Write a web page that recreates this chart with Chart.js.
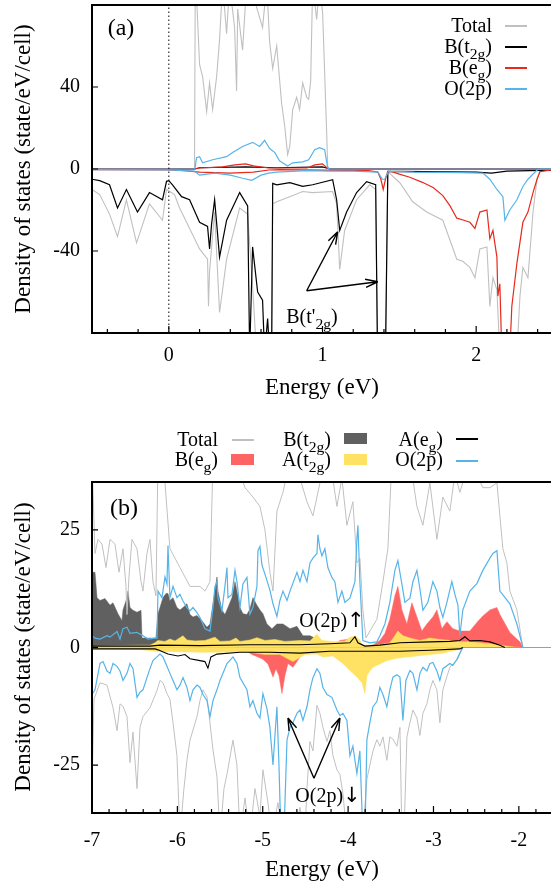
<!DOCTYPE html>
<html>
<head>
<meta charset="utf-8">
<script src="https://cdn.jsdelivr.net/npm/chart.js@4.4.1/dist/chart.umd.min.js"></script>
<style>
  body { margin: 0; width: 551px; height: 882px; overflow: hidden; background: #fff; position: relative; font-family: "Liberation Serif", "Times New Roman", serif; }
  canvas { position: absolute; left: 0; }
  .t { position: absolute; white-space: nowrap; color: #000; line-height: 1; font-size: 20px; }
  .c { transform: translate(-50%, -50%); }
  .r { transform: translate(-100%, -50%); }
  .ytitle { font-size: 23px; transform: translate(-50%, -50%) rotate(-90deg); }
  .xtitle { font-size: 23px; }
  .panel { font-size: 24px; }
  .arr { font-family: "DejaVu Sans", sans-serif; font-size: 21px; }
  sub { font-size: 0.78em; vertical-align: -0.38em; line-height: 0; }
  .ln { position: absolute; height: 1.5px; }
  .bx { position: absolute; }
</style>
</head>
<body>
<canvas id="dosA" width="560" height="400" style="top:0"></canvas>
<canvas id="dosB" width="560" height="482" style="top:400px"></canvas>

<!-- panel (a) texts -->
<div class="t ytitle" style="left:22px;top:169px">Density of states (state/eV/cell)</div>
<div class="t xtitle c" style="left:322px;top:386px">Energy (eV)</div>
<div class="t panel c" style="left:121px;top:27px">(a)</div>
<div class="t r" style="left:492px;top:25px">Total</div>
<div class="t r" style="left:492px;top:46px">B(t<sub>2g</sub>)</div>
<div class="t r" style="left:492px;top:67px">B(e<sub>g</sub>)</div>
<div class="t r" style="left:492px;top:88px">O(2p)</div>
<div class="ln" style="left:505px;width:22px;top:25px;background:#c0c0c0"></div>
<div class="ln" style="left:505px;width:22px;top:46px;background:#000"></div>
<div class="ln" style="left:505px;width:22px;top:67px;background:#e8291c"></div>
<div class="ln" style="left:505px;width:22px;top:88px;background:#56b4e9"></div>
<div class="t c" style="left:312px;top:316px">B(t'<sub>2g</sub>)</div>

<!-- panel (b) texts -->
<div class="t ytitle" style="left:22px;top:647px">Density of states (state/eV/cell)</div>
<div class="t xtitle c" style="left:322px;top:868px">Energy (eV)</div>
<div class="t panel c" style="left:124px;top:507px">(b)</div>
<div class="t r" style="left:218px;top:439px">Total</div>
<div class="t r" style="left:218px;top:459px">B(e<sub>g</sub>)</div>
<div class="t r" style="left:331px;top:439px">B(t<sub>2g</sub>)</div>
<div class="t r" style="left:331px;top:459px">A(t<sub>2g</sub>)</div>
<div class="t r" style="left:443px;top:439px">A(e<sub>g</sub>)</div>
<div class="t r" style="left:443px;top:459px">O(2p)</div>
<div class="ln" style="left:232px;width:22px;top:439px;background:#c0c0c0"></div>
<div class="bx" style="left:231px;width:23px;top:454px;height:11px;background:#ff6464"></div>
<div class="bx" style="left:344px;width:23px;top:433px;height:11px;background:#606060"></div>
<div class="bx" style="left:344px;width:23px;top:454px;height:11px;background:#ffe263"></div>
<div class="ln" style="left:456px;width:22px;top:438px;background:#000"></div>
<div class="ln" style="left:456px;width:22px;top:460px;background:#56b4e9"></div>
<div class="t c" style="left:332px;top:620px">O(2p)<span class="arr">↑</span></div>
<div class="t c" style="left:328px;top:795px">O(2p)<span class="arr">↓</span></div>

<script>
// ---------- panel (a): energy (eV) vs DOS, spin up (+) / spin down (-) ----------
const xTicksA = [0, 1, 2];
const yTicksA = [-40, 0, 40];
const fermiLevel = 0;

const totalUpA = [[-0.5,0],[0.167,0],[0.172,90],[0.18,85],[0.2,51],[0.22,45],[0.246,28],[0.265,42],[0.285,29],[0.311,45],[0.33,63],[0.35,90],[0.376,66],[0.395,90],[0.428,69],[0.441,38],[0.448,78],[0.48,58],[0.506,90],[0.545,90],[0.571,79],[0.61,69],[0.637,90],[0.656,62],[0.676,49],[0.702,60],[0.734,32],[0.754,21],[0.773,7],[0.787,11],[0.806,29],[0.832,35],[0.851,29],[0.871,42],[0.897,35],[0.91,34],[0.923,43],[0.936,90],[0.962,73],[0.981,90],[1.001,76],[1.027,18],[1.034,1],[1.047,0],[2.5,0]];
const totalDnA = [[-0.5,-10],[-0.45,-12.5],[-0.386,-22],[-0.334,-33],[-0.276,-15],[-0.21,-36],[-0.126,-17],[-0.041,-25],[-0.015,-10],[0.037,-12.5],[0.07,-19],[0.083,-21],[0.2,-39],[0.252,-44],[0.258,-67],[0.265,-50],[0.298,-21],[0.33,-70],[0.376,-44],[0.461,-19],[0.513,-22],[0.545,-57],[0.571,-90],[0.669,-90],[0.676,-17],[0.702,-16],[0.787,-13.5],[0.871,-11],[0.936,-11.5],[1.066,-11],[1.092,-17],[1.112,-49],[1.144,-30],[1.222,-15],[1.307,-7.7],[1.346,-10],[1.358,-90],[1.41,-90],[1.425,-1.3],[1.503,-6.7],[1.587,-16],[1.678,-21],[1.783,-25],[1.874,-44],[1.913,-45],[1.959,-48],[1.992,-53],[2.024,-39],[2.07,-38],[2.089,-67],[2.109,-53],[2.135,-59],[2.154,-90],[2.265,-90],[2.285,-62],[2.304,-48],[2.337,-53],[2.37,-21],[2.396,-5],[2.415,-1],[2.5,-0.5]];
const bt2gUpA = [[-0.5,0],[0.167,0],[0.2,0.6],[0.5,1],[0.7,0.6],[1.0,1],[1.05,0],[2.5,0]];
const bt2gDnA = [[-0.5,-5],[-0.45,-5.7],[-0.386,-7.7],[-0.334,-19],[-0.276,-10],[-0.204,-21],[-0.126,-11.5],[-0.041,-15],[-0.015,-6],[0,-5.7],[0.024,-7.7],[0.083,-13.5],[0.135,-15],[0.2,-26],[0.252,-28],[0.265,-39],[0.278,-27],[0.298,-15],[0.33,-43],[0.376,-25],[0.461,-11.5],[0.513,-18],[0.526,-90],[0.545,-38],[0.578,-60],[0.61,-64],[0.623,-90],[0.643,-73],[0.656,-90],[0.669,-90],[0.676,-7],[0.702,-7.7],[0.787,-6.7],[0.871,-8.5],[0.936,-7.7],[1.066,-5.2],[1.092,-15],[1.112,-30],[1.157,-21],[1.222,-11.5],[1.287,-6.2],[1.346,-7.7],[1.358,-90],[1.41,-90],[1.425,-1.3],[1.5,-1.2],[2.0,-1.5],[2.1,-2],[2.2,-1],[2.5,-0.5]];
const begUpA = [[-0.5,0],[0.167,0],[0.2,0.5],[0.35,1],[0.43,2],[0.5,2.5],[0.55,1.5],[0.65,0.5],[0.9,0.5],[0.95,2],[1.0,2.5],[1.03,0.5],[1.05,0],[2.5,0]];
const begDnA = [[-0.5,-0.3],[0,-0.5],[0.1,-0.8],[0.2,-1.5],[0.4,-2],[0.55,-1.5],[0.65,-0.5],[0.72,-0.3],[1.3,-0.8],[1.36,-1.5],[1.38,-5],[1.395,-10],[1.41,-5],[1.425,-1],[1.451,-1.3],[1.5,-2.5],[1.568,-4],[1.65,-6.5],[1.72,-9],[1.783,-13],[1.83,-18],[1.874,-24],[1.92,-25],[1.959,-26],[1.992,-29],[2.024,-21],[2.07,-20],[2.089,-34],[2.109,-30],[2.135,-43],[2.141,-62],[2.154,-56],[2.167,-90],[2.219,-90],[2.232,-67],[2.265,-46],[2.304,-26],[2.337,-21],[2.37,-11.5],[2.396,-5],[2.415,-1.3],[2.5,-0.3]];
const o2pUpA = [[-0.5,0],[0.167,0],[0.172,1],[0.18,5.5],[0.2,6],[0.22,3],[0.285,4.5],[0.376,6],[0.415,8],[0.48,11],[0.545,13],[0.591,11],[0.623,14],[0.656,10],[0.69,8],[0.72,4],[0.773,1.5],[0.806,3],[0.871,3.5],[0.91,4.5],[0.949,9.4],[0.981,10.4],[1.014,9.4],[1.034,0.5],[1.05,0],[2.5,0]];
const o2pDnA = [[-0.5,-0.3],[0,-0.5],[0.167,-1],[0.2,-3],[0.3,-2],[0.4,-3],[0.48,-4.5],[0.54,-5.5],[0.6,-3],[0.65,-2],[0.7,-1.5],[0.9,-0.8],[1.05,-1],[1.2,-1],[1.36,-1.5],[1.39,-5],[1.405,-5],[1.43,-1],[1.6,-1.5],[1.9,-1.8],[2.044,-2],[2.089,-5],[2.135,-10],[2.174,-13.5],[2.187,-25],[2.219,-20],[2.265,-15],[2.304,-8.5],[2.337,-5],[2.396,-0.5],[2.42,0],[2.5,0]];
// B(t'2g) annotation arrows: [fromE, fromDOS, toE, toDOS]
const arrowsA = [[0.897,-59.4,1.099,-30.6],[0.897,-59.4,1.36,-55]];

// ---------- panel (b) ----------
const xTicksB = [-7, -6, -5, -4, -3, -2];
const yTicksB = [-25, 0, 25];

const totalUpB = [[-7,40],[-6.965,20],[-6.93,23],[-6.883,22],[-6.836,17],[-6.789,23],[-6.731,22],[-6.684,16],[-6.637,21],[-6.602,13],[-6.59,7],[-6.567,15],[-6.532,23],[-6.473,21],[-6.426,14],[-6.403,12],[-6.356,20],[-6.321,23],[-6.286,14],[-6.251,11],[-6.227,40],[-6.204,40],[-6.145,35],[-6.087,21],[-6.028,19],[-5.97,17],[-5.911,15],[-5.852,13],[-5.735,13],[-5.677,12],[-5.618,14],[-5.583,40],[-5.501,40],[-5.407,36],[-5.325,40],[-5.208,34],[-5.115,32],[-5.033,30],[-4.974,25],[-4.916,16],[-4.88,12],[-4.834,29],[-4.763,33],[-4.681,40],[-4.564,36],[-4.482,31],[-4.412,28],[-4.33,35],[-4.213,40],[-4.131,30],[-4.073,36],[-4.014,26],[-3.944,31],[-3.897,18],[-3.862,19],[-3.827,8],[-3.791,2],[-3.745,3.5],[-3.663,6],[-3.592,14],[-3.534,21],[-3.487,40],[-3.393,36],[-3.276,40],[-3.194,30],[-3.124,26],[-3.042,35],[-2.96,23],[-2.89,32],[-2.808,29],[-2.749,37],[-2.691,33],[-2.574,40],[-2.422,34],[-2.339,34],[-2.257,35],[-2.222,28],[-2.187,21],[-2.14,18],[-2.105,12],[-2.023,8],[-1.953,0],[-1.6,0]];
const totalDnB = [[-7,-30],[-6.977,-11],[-6.906,-7.5],[-6.824,-8],[-6.754,-12.8],[-6.707,-17.7],[-6.672,-12],[-6.637,-12.5],[-6.59,-14.7],[-6.555,-24.5],[-6.52,-18],[-6.473,-30],[-6.438,-17],[-6.403,-14.7],[-6.321,-12.8],[-6.239,-9.2],[-6.204,-7],[-6.169,-7.5],[-6.122,-9.8],[-6.087,-11],[-6.051,-16],[-6.005,-23],[-5.97,-40],[-5.923,-30],[-5.888,-24],[-5.852,-19.7],[-5.77,-14.7],[-5.735,-11.3],[-5.7,-9],[-5.653,-10.5],[-5.618,-16],[-5.583,-21.8],[-5.536,-27.5],[-5.501,-40],[-5.454,-30],[-5.419,-27],[-5.349,-19.7],[-5.302,-25],[-5.267,-40],[-5.208,-32],[-5.15,-40],[-5.091,-30],[-5.033,-36],[-4.998,-26],[-4.939,-33],[-4.892,-40],[-4.822,-33],[-4.763,-40],[-4.681,-36],[-4.623,-40],[-4.564,-34],[-4.506,-40],[-4.482,-30],[-4.447,-20],[-4.412,-22],[-4.365,-12.3],[-4.33,-14],[-4.295,-17],[-4.248,-20],[-4.213,-17.7],[-4.178,-23],[-4.131,-26],[-4.096,-27],[-4.061,-31],[-4.014,-40],[-3.827,-40],[-3.78,-28],[-3.745,-25],[-3.709,-22],[-3.663,-19.6],[-3.628,-21],[-3.592,-19],[-3.546,-24],[-3.511,-19],[-3.475,-19.5],[-3.428,-21],[-3.393,-17],[-3.37,-40],[-3.346,-40],[-3.311,-19],[-3.276,-16],[-3.241,-13.3],[-3.194,-15],[-3.159,-18.7],[-3.124,-14],[-3.077,-12],[-3.042,-9],[-3.007,-7],[-2.96,-9],[-2.925,-16],[-2.89,-9],[-2.843,-6.2],[-2.808,-4.2],[-2.773,-3.5],[-2.726,-2.8],[-2.691,-1.4],[-2.667,0],[-1.6,0]];
const bt2gUpB = [[-7,16],[-6.965,16],[-6.941,10.6],[-6.906,10],[-6.848,10.4],[-6.789,9],[-6.754,9.5],[-6.696,7.2],[-6.649,5.7],[-6.637,8],[-6.59,10.6],[-6.578,12],[-6.555,8.5],[-6.52,7.9],[-6.473,7.5],[-6.426,7.9],[-6.414,2],[-6.251,2],[-6.227,7.2],[-6.204,8.5],[-6.169,10.6],[-6.133,11.5],[-6.11,11.5],[-6.087,10],[-6.051,10.6],[-6.005,8.5],[-5.97,8],[-5.934,8.5],[-5.888,9.3],[-5.852,7],[-5.817,6.5],[-5.77,6.8],[-5.712,5.7],[-5.653,4.3],[-5.618,5],[-5.583,9.3],[-5.536,15],[-5.525,12],[-5.478,8],[-5.443,7],[-5.407,8.5],[-5.361,10.6],[-5.325,14],[-5.302,12],[-5.267,8.5],[-5.232,7.2],[-5.185,7],[-5.15,8.2],[-5.115,10.6],[-5.068,9],[-5.033,8],[-4.998,7.2],[-4.951,5],[-4.892,4],[-4.834,5],[-4.763,5],[-4.681,4],[-4.599,4.5],[-4.529,2.5],[-4.447,2.5],[-4.365,1.8],[-4.213,0.5],[-4.037,0],[-1.6,0]];
const begUpB = [[-4.213,0],[-4.096,1.5],[-3.979,1.8],[-3.885,1],[-3.827,0],[-3.768,0],[-3.686,0.8],[-3.628,1.5],[-3.569,3],[-3.511,6],[-3.452,11],[-3.417,13],[-3.37,8],[-3.311,5],[-3.253,9.5],[-3.194,6.5],[-3.136,3.5],[-3.077,5],[-3.007,6.5],[-2.96,8],[-2.902,4],[-2.843,5.5],[-2.773,4],[-2.691,3.5],[-2.574,3.5],[-2.492,5.3],[-2.422,6.7],[-2.339,8],[-2.257,8.5],[-2.222,7],[-2.105,3.2],[-1.988,1.2],[-1.953,0]];
const begDnB = [[-5.325,0],[-5.208,-0.5],[-5.127,-1.5],[-5.056,-2],[-4.998,-2.5],[-4.939,-3.5],[-4.88,-6.3],[-4.845,-4.5],[-4.81,-6],[-4.775,-9.8],[-4.74,-6],[-4.705,-3.4],[-4.646,-4.2],[-4.599,-3],[-4.564,-2],[-4.506,-1],[-4.424,-0.5],[-4.33,0]];
const at2gUpB = [[-7,0.3],[-6.438,0.5],[-6.321,0.5],[-6.262,1],[-6.227,1.5],[-6.145,1.3],[-6.087,1.8],[-6.028,1.4],[-5.934,2.5],[-5.888,1.6],[-5.794,1.4],[-5.677,1.5],[-5.56,2.2],[-5.501,1.3],[-5.384,1.4],[-5.314,2],[-5.267,1.3],[-5.15,1.6],[-5.068,2.1],[-4.974,1.5],[-4.857,1.7],[-4.74,1.3],[-4.564,1.5],[-4.447,1.4],[-4.365,2.8],[-4.307,1.5],[-4.155,1.2],[-4.037,1.4],[-3.979,2.2],[-3.909,2.4],[-3.862,1.5],[-3.827,0.5],[-3.745,0.5],[-3.628,0.6],[-3.511,1],[-3.452,2.5],[-3.417,3.5],[-3.358,2.5],[-3.276,2],[-3.159,1.5],[-3.042,2],[-2.925,1.7],[-2.808,1.5],[-2.691,1.2],[-2.574,1.2],[-2.456,1],[-2.339,0.8],[-2.222,0.5],[-2.105,0.2],[-1.988,0]];
const at2gDnB = [[-7,-0.3],[-6.438,-0.4],[-6.262,-0.8],[-5.735,-1],[-5.15,-1],[-4.974,-1.5],[-4.799,-1.5],[-4.646,-3],[-4.506,-1.5],[-4.365,-1.4],[-4.295,-2],[-4.178,-1.8],[-4.061,-3.4],[-3.979,-4.9],[-3.897,-6.3],[-3.838,-7.5],[-3.803,-9.8],[-3.78,-6],[-3.745,-5],[-3.709,-4.2],[-3.628,-3.5],[-3.546,-2.8],[-3.428,-2.3],[-3.311,-2],[-3.194,-1.8],[-3.042,-1.5],[-2.89,-1.2],[-2.726,-0.5],[-2.656,0]];
const aegUpB = [[-7,0.3],[-6.321,0.3],[-6.204,0.5],[-5.735,0.4],[-5.15,0.6],[-4.564,0.6],[-4.213,0.8],[-3.979,1],[-3.92,2.3],[-3.885,1],[-3.803,0.3],[-3.628,0.5],[-3.393,1],[-3.042,1.2],[-2.808,1.3],[-2.691,1.5],[-2.632,2.3],[-2.574,1.4],[-2.456,1.5],[-2.339,1.2],[-2.222,0.5],[-2.164,0]];
const aegDnB = [[-7,-0.3],[-6.262,-0.3],[-6.227,-0.5],[-6.11,-1.4],[-5.993,-1.8],[-5.911,-1.5],[-5.852,-2.4],[-5.735,-2.8],[-5.677,-3],[-5.642,-4.4],[-5.607,-2],[-5.536,-1.4],[-5.267,-1],[-4.916,-1],[-4.564,-1.2],[-4.213,-0.8],[-3.862,-0.8],[-3.393,-0.8],[-3.042,-0.6],[-2.691,-0.3],[-2.656,0]];
const o2pUpB = [[-7,2.5],[-6.965,2],[-6.906,1.8],[-6.824,2.5],[-6.789,2.2],[-6.707,3.4],[-6.672,1.8],[-6.637,4],[-6.59,4.3],[-6.555,3],[-6.473,3.2],[-6.403,2.5],[-6.344,1.8],[-6.262,2],[-6.239,2],[-6.227,12],[-6.18,10.6],[-6.145,15],[-6.122,13.5],[-6.11,21.7],[-6.087,10.6],[-6.051,13],[-6.005,10.6],[-5.97,11.3],[-5.934,9.9],[-5.888,8.5],[-5.852,7.8],[-5.817,8.5],[-5.77,7.4],[-5.735,6.4],[-5.677,4],[-5.618,3.5],[-5.583,8.5],[-5.56,13],[-5.536,14],[-5.525,10.6],[-5.478,7.8],[-5.443,13],[-5.419,17],[-5.407,10.6],[-5.361,11.3],[-5.325,16.4],[-5.302,14],[-5.267,8.5],[-5.232,13.5],[-5.185,14.9],[-5.15,7.1],[-5.115,8.5],[-5.068,13],[-5.056,20.6],[-5.033,21.5],[-5.009,17.5],[-4.974,15.6],[-4.916,12.2],[-4.88,9.3],[-4.834,6.6],[-4.799,10],[-4.763,12],[-4.716,10],[-4.681,12],[-4.599,16],[-4.564,14],[-4.529,16.4],[-4.482,14],[-4.447,18],[-4.412,19],[-4.365,20],[-4.354,24],[-4.33,21],[-4.307,19.5],[-4.272,21],[-4.237,17],[-4.19,14.9],[-4.155,14],[-4.119,9.6],[-4.073,12],[-4.037,9.6],[-3.979,10.5],[-3.92,14],[-3.897,23],[-3.885,26],[-3.862,14],[-3.827,1.5],[-3.745,1],[-3.663,1.2],[-3.628,2.5],[-3.569,5],[-3.511,9.6],[-3.452,16.4],[-3.417,18.5],[-3.37,13.5],[-3.335,9.6],[-3.276,10.5],[-3.241,14],[-3.194,16.4],[-3.159,12.5],[-3.124,7.9],[-3.066,9.6],[-3.007,14],[-2.96,12],[-2.925,8.5],[-2.89,6.4],[-2.843,9.6],[-2.785,14],[-2.749,11.3],[-2.714,9],[-2.691,2.5],[-2.656,8],[-2.574,12],[-2.492,13.6],[-2.422,16.4],[-2.339,19],[-2.304,20],[-2.257,20.6],[-2.222,12],[-2.105,9.3],[-2.023,5],[-1.953,0],[-1.6,0]];
const o2pDnB = [[-7,-10],[-6.965,-9],[-6.906,-3.4],[-6.871,-3],[-6.824,-5],[-6.789,-5.5],[-6.754,-3.4],[-6.707,-4],[-6.672,-5],[-6.637,-7],[-6.59,-5.5],[-6.555,-3.4],[-6.52,-4.5],[-6.473,-10.6],[-6.438,-9.5],[-6.403,-9],[-6.356,-6.4],[-6.321,-4.5],[-6.286,-2.8],[-6.239,-2],[-6.204,-1.4],[-6.169,-2],[-6.122,-4],[-6.087,-5.5],[-6.051,-7],[-6.005,-9],[-5.97,-8],[-5.934,-6.4],[-5.888,-8.5],[-5.852,-11.3],[-5.817,-9],[-5.77,-8],[-5.735,-8.5],[-5.7,-10],[-5.653,-11.3],[-5.618,-14.7],[-5.583,-11.3],[-5.536,-9],[-5.501,-7],[-5.419,-3.4],[-5.349,-2],[-5.302,-3.4],[-5.267,-6.4],[-5.185,-9],[-5.15,-12.6],[-5.115,-11.3],[-5.068,-14],[-5.033,-15],[-4.998,-9.8],[-4.951,-13],[-4.916,-17],[-4.88,-25],[-4.834,-12.6],[-4.81,-25],[-4.787,-40],[-4.752,-40],[-4.716,-19.7],[-4.681,-17],[-4.646,-16],[-4.599,-14],[-4.564,-13.3],[-4.529,-15.5],[-4.482,-12.6],[-4.447,-9],[-4.412,-6.4],[-4.365,-4.5],[-4.33,-5.5],[-4.295,-8.5],[-4.248,-10],[-4.19,-10.6],[-4.131,-13.3],[-4.096,-14.5],[-4.061,-14],[-4.014,-15.5],[-3.979,-23],[-3.944,-21],[-3.897,-26.8],[-3.862,-22],[-3.827,-40],[-3.803,-40],[-3.78,-19.6],[-3.745,-16],[-3.709,-12.6],[-3.663,-11.5],[-3.628,-8.5],[-3.592,-10],[-3.546,-12.6],[-3.511,-9],[-3.475,-6.3],[-3.428,-5.8],[-3.393,-6.3],[-3.358,-15.5],[-3.323,-7],[-3.276,-4.9],[-3.241,-5.5],[-3.194,-9],[-3.159,-5.5],[-3.124,-4.2],[-3.077,-5],[-3.042,-3.4],[-3.007,-3.2],[-2.96,-5],[-2.925,-7],[-2.89,-4.5],[-2.808,-3.4],[-2.773,-3.8],[-2.726,-2.5],[-2.691,-1.2],[-2.656,0],[-1.6,0]];
// O(2p) down annotation arrows
const arrowsB = [[-4.40,-27.8,-4.705,-15],[-4.40,-27.8,-4.096,-15]];

const font = { family: 'Liberation Serif', size: 20 };
const pts = a => a.map(([x, y]) => ({ x, y }));

function line(arr, color, width) {
  return { data: pts(arr), borderColor: color, borderWidth: width, pointRadius: 0, fill: false, tension: 0, clip: 0 };
}
function area(arr, color) {
  return { data: pts(arr), borderColor: color, backgroundColor: color, borderWidth: 0.5, pointRadius: 0, fill: 'origin', tension: 0, clip: 0 };
}

// gnuplot-like frame: box border, inward ticks, arrows
const framePlugin = {
  id: 'frame',
  afterDatasetsDraw(chart, args, o) {
    const { ctx, chartArea: a } = chart;
    const x = chart.scales.x, y = chart.scales.y;
    ctx.save();
    ctx.strokeStyle = '#000';
    ctx.lineWidth = 1.4;
    (o.arrows || []).forEach(([e0, d0, e1, d1]) => {
      const x0 = x.getPixelForValue(e0), y0 = y.getPixelForValue(d0);
      const x1 = x.getPixelForValue(e1), y1 = y.getPixelForValue(d1);
      const ang = Math.atan2(y1 - y0, x1 - x0);
      ctx.beginPath();
      ctx.moveTo(x0, y0); ctx.lineTo(x1, y1);
      [-0.32, 0.32].forEach(da => {
        ctx.moveTo(x1, y1);
        ctx.lineTo(x1 - 13 * Math.cos(ang + da), y1 - 13 * Math.sin(ang + da));
      });
      ctx.stroke();
    });
    ctx.lineWidth = 1.2;
    ctx.beginPath();
    for (let v = Math.ceil(x.min / 0.2 - 1e-6) * 0.2; v <= x.max + 1e-6; v += 0.2) {
      const p = x.getPixelForValue(v);
      const major = o.xMajor.some(m => Math.abs(m - v) < 1e-6);
      ctx.moveTo(p, a.bottom); ctx.lineTo(p, a.bottom - (major ? 7 : 4));
    }
    o.yMajor.forEach(v => {
      const p = y.getPixelForValue(v);
      ctx.moveTo(a.left, p); ctx.lineTo(a.left + 6, p);
    });
    ctx.stroke();
    ctx.lineWidth = 2;
    ctx.strokeRect(a.left, a.top, a.right - a.left, a.bottom - a.top);
    ctx.restore();
  }
};

function scales(xMin, xMax, yMin, yMax, xTicks, yTicks, xHeight, xPad) {
  return {
    x: {
      type: 'linear', min: xMin, max: xMax,
      grid: { display: false, drawTicks: false }, border: { display: false },
      ticks: { font, color: '#000', padding: xPad, maxRotation: 0, autoSkip: false },
      afterBuildTicks: s => { s.ticks = xTicks.map(v => ({ value: v })); },
      afterFit: s => { s.height = xHeight; s.paddingLeft = 0; s.paddingRight = 0; }
    },
    y: {
      type: 'linear', min: yMin, max: yMax,
      grid: { display: false, drawTicks: false }, border: { display: false },
      ticks: { font, color: '#000', padding: 12, autoSkip: false },
      afterBuildTicks: s => { s.ticks = yTicks.map(v => ({ value: v })); },
      afterFit: s => { s.width = 92; s.paddingTop = 0; s.paddingBottom = 0; }
    }
  };
}

const common = {
  responsive: false, animation: false, devicePixelRatio: 1, events: [],
};

new Chart(document.getElementById('dosA'), {
  type: 'line',
  data: {
    datasets: [
      { data: [{ x: fermiLevel, y: -80 }, { x: fermiLevel, y: 80 }], borderColor: '#000', borderWidth: 1, borderDash: [1.5, 2.5], pointRadius: 0, clip: 0 },
      line(o2pUpA, '#56b4e9', 1.2),
      line(o2pDnA, '#56b4e9', 1.2),
      line(begUpA, '#e8291c', 1.2),
      line(begDnA, '#e8291c', 1.2),
      line(bt2gUpA, '#000', 1.2),
      line(bt2gDnA, '#000', 1.2),
      line(totalUpA, '#c0c0c0', 1.1),
      line(totalDnA, '#c0c0c0', 1.1)
    ]
  },
  options: {
    ...common,
    layout: { padding: { left: 0, right: 7, top: 5, bottom: 0 } },
    scales: scales(-0.5, 2.5, -80, 80, xTicksA, yTicksA, 67, 11),
    plugins: { legend: { display: false }, tooltip: { enabled: false },
      frame: { xMajor: xTicksA, yMajor: yTicksA, arrows: arrowsA } }
  },
  plugins: [framePlugin]
});

new Chart(document.getElementById('dosB'), {
  type: 'line',
  data: {
    datasets: [
      line(aegUpB, '#000', 1.1),
      line(aegDnB, '#000', 1.1),
      line(o2pUpB, '#56b4e9', 1.2),
      line(o2pDnB, '#56b4e9', 1.2),
      line(totalUpB, '#c0c0c0', 1),
      line(totalDnB, '#c0c0c0', 1),
      area(at2gUpB, '#ffe263'),
      area(at2gDnB, '#ffe263'),
      area(begUpB, '#ff6464'),
      area(begDnB, '#ff6464'),
      area(bt2gUpB, '#606060')
    ]
  },
  options: {
    ...common,
    layout: { padding: { left: 0, right: 7, top: 82, bottom: 0 } },
    scales: scales(-7, -1.6, -35.2, 35.2, xTicksB, yTicksB, 69, 16),
    plugins: { legend: { display: false }, tooltip: { enabled: false },
      frame: { xMajor: xTicksB, yMajor: yTicksB, arrows: arrowsB } }
  },
  plugins: [framePlugin]
});
</script>
</body>
</html>
